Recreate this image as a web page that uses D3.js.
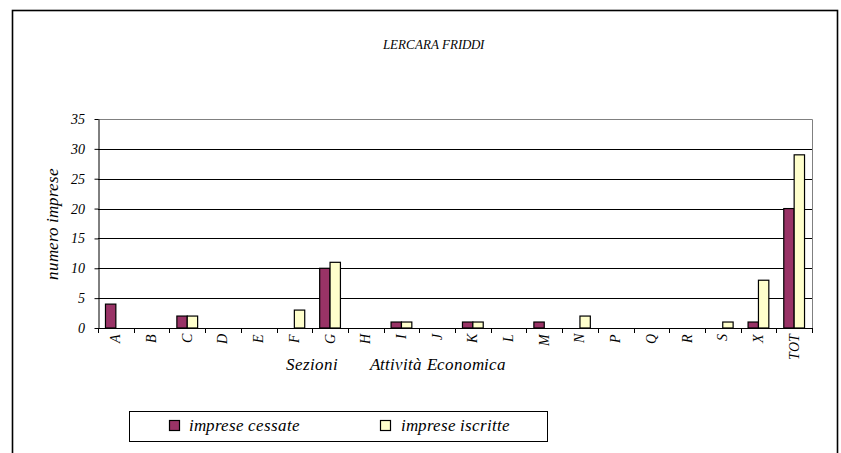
<!DOCTYPE html>
<html><head><meta charset="utf-8">
<script src="https://cdn.jsdelivr.net/npm/d3@7"></script>
<style>
@font-face{font-family:'ChartSerif';font-style:italic;font-weight:400;src:local('Liberation Serif Italic'),local('LiberationSerif-Italic'),local('Times New Roman Italic'),local('Tinos Italic');}
body{margin:0;background:#fff}
</style>
</head><body><svg id="c" width="841" height="453"></svg>
<script>
const categories = ["A","B","C","D","E","F","G","H","I","J","K","L","M","N","P","Q","R","S","X","TOT"];
const cessate = [4,0,2,0,0,0,10,0,1,0,1,0,1,0,0,0,0,0,1,20];
const iscritte = [0,0,2,0,0,3,11,0,1,0,1,0,0,2,0,0,0,1,8,29];
const yTicks = [0,5,10,15,20,25,30,35];
const seriesNames = ["imprese cessate","imprese iscritte"];
const seriesColors = ["#993366","#FFFFCC"];
const title = "LERCARA FRIDDI";

const FONT = "ChartSerif, 'Liberation Serif', 'Times New Roman', serif";
const svg = d3.select("#c");
function serif(sel, size){ return sel.classed("sf",true).style("font-family",FONT).style("font-style","italic").attr("font-size",size).attr("fill","#000"); }

svg.append("rect").attr("x",12.5).attr("y",10.5).attr("width",825).attr("height",460)
  .attr("fill","none").attr("stroke","#000").attr("stroke-width",1.6);

const L=98, R=812, T=119, B=328;
const x = d3.scaleBand().domain(categories).range([L,R]).paddingInner(0).paddingOuter(0);
const inner = d3.scaleBand().domain([0,1]).range([0,x.bandwidth()]).paddingInner(0).paddingOuter(0.72);
const y = d3.scaleLinear().domain([0,35]).range([B,T]);

svg.append("path").attr("d",`M${L},${T+0.5}H${R+0.5}V${B}`).attr("fill","none").attr("stroke","#808080");
svg.append("g").selectAll("line").data(yTicks.filter(v=>v>0&&v<35)).join("line")
  .attr("x1",L).attr("x2",R).attr("y1",d=>Math.round(y(d))+0.5).attr("y2",d=>Math.round(y(d))+0.5)
  .attr("stroke","#000").attr("stroke-width",1);

const ya = svg.append("g").attr("transform",`translate(${L+0.5},0)`)
  .call(d3.axisLeft(y).tickValues(yTicks).tickSize(4).tickFormat("").tickSizeOuter(0));
ya.select(".domain").attr("stroke","#000");
ya.selectAll("line").attr("stroke","#000");
serif(svg.append("g").selectAll("text").data(yTicks).join("text")
  .attr("x",85).attr("y",d=>y(d)+5).attr("text-anchor","end").text(d=>d),14);

svg.append("line").attr("x1",L).attr("x2",R+0.5).attr("y1",B+0.5).attr("y2",B+0.5).attr("stroke","#000");
const bounds = categories.map(c=>x(c)).concat([R]);
svg.append("g").selectAll("line").data(bounds).join("line")
  .attr("x1",d=>Math.round(d)+0.5).attr("x2",d=>Math.round(d)+0.5).attr("y1",B).attr("y2",B+5).attr("stroke","#000");
serif(svg.append("g").selectAll("text").data(categories).join("text")
  .attr("transform",d=>`translate(${x(d)+x.bandwidth()/2+4.5},334) rotate(-90)`)
  .attr("text-anchor","end").text(d=>d),13.5);

const series = [cessate, iscritte];
series.forEach((vals,si)=>{
  svg.append("g").selectAll("rect").data(categories.map((c,i)=>({c,v:vals[i]})).filter(d=>d.v>0)).join("rect")
    .attr("x",d=>x(d.c)+inner(si)).attr("width",inner.bandwidth())
    .attr("y",d=>y(d.v)).attr("height",d=>y(0)-y(d.v))
    .attr("fill",seriesColors[si]).attr("stroke","#000").attr("stroke-width",1.2);
});

serif(svg.append("text").attr("x",433).attr("y",49).attr("text-anchor","middle").text(title),13);
serif(svg.append("text").attr("transform","translate(58,224) rotate(-90)").attr("text-anchor","middle").text("numero imprese"),17);
serif(svg.append("g").selectAll("text").data([["Sezioni",286],["Attività",370],["Economica",427]]).join("text")
  .attr("x",d=>d[1]).attr("y",370).text(d=>d[0]),17);

svg.append("rect").attr("x",129.5).attr("y",411.5).attr("width",418).attr("height",30).attr("fill","#fff").attr("stroke","#000");
const lx = [169.5,380.5], tx=[189,400.5];
svg.append("g").selectAll("rect").data(seriesNames).join("rect")
  .attr("x",(d,i)=>lx[i]).attr("y",420.5).attr("width",10).attr("height",10).attr("fill",(d,i)=>seriesColors[i]).attr("stroke","#000").attr("stroke-width",1.2);
serif(svg.append("g").selectAll("text").data(seriesNames).join("text")
  .attr("x",(d,i)=>tx[i]).attr("y",431).text(d=>d),17);

if (document.fonts && document.fonts.load) {
  document.fonts.load("italic 17px ChartSerif").then(()=>{
    d3.selectAll("text.sf").style("font-family",null);
    d3.selectAll("text.sf").style("font-family",FONT);
  }).catch(()=>{});
}
</script></body></html>
